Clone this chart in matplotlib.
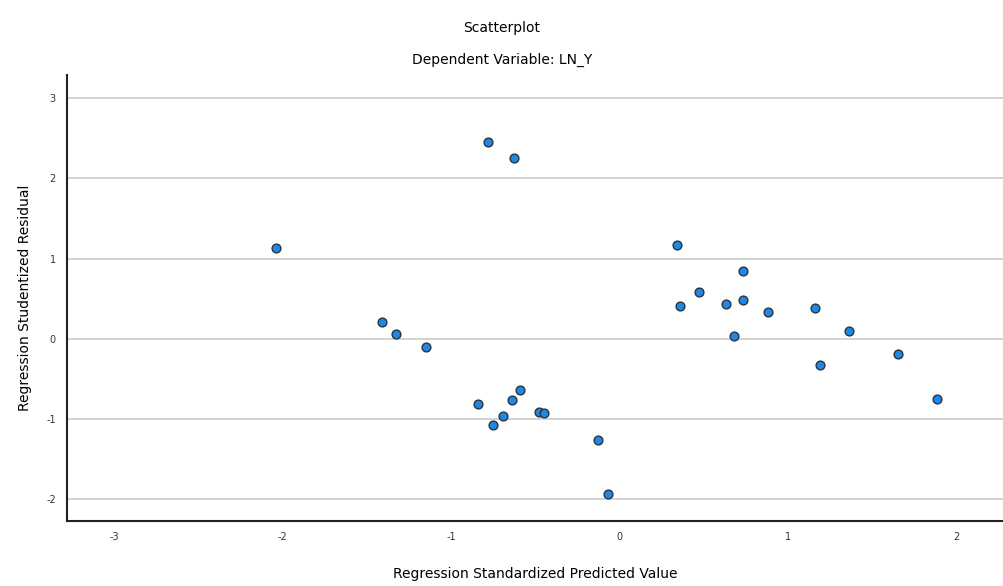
import matplotlib.pyplot as plt

plt.rcParams["axes.unicode_minus"] = False

# standardized predicted values and studentized residuals
pred = [-2.04, -0.78, -0.63, -1.41, -1.33, -1.15, -0.84, -0.75, -0.69, -0.64,
        -0.59, -0.48, -0.45, -0.13, -0.07, 0.34, 0.36, 0.47, 0.63, 0.73,
        0.73, 0.68, 0.88, 1.16, 1.19, 1.36, 1.65, 1.88]
resid = [1.13, 2.46, 2.26, 0.21, 0.06, -0.10, -0.81, -1.07, -0.96, -0.76,
         -0.64, -0.91, -0.93, -1.26, -1.93, 1.17, 0.41, 0.58, 0.43, 0.85,
         0.48, 0.03, 0.33, 0.38, -0.33, 0.10, -0.19, -0.75]
xticks = [-3, -2, -1, 0, 1, 2]
yticks = [-2, -1, 0, 1, 2, 3]

fig = plt.figure(figsize=(10.04, 5.86), dpi=100)
ax = fig.add_axes([0.0667, 0.111, 0.9333, 0.761])

ax.scatter(pred, resid, s=40, color="#1e88e5", edgecolors="#2b3340",
           linewidths=1.0, zorder=3)

ax.set_xlim(-3.28, 2.28)
ax.set_ylim(-2.27, 3.29)
ax.set_xticks(xticks)
ax.set_yticks(yticks)
ax.tick_params(length=0, labelsize=7, colors="#333333", pad=8)
ax.grid(axis="y", color="#cccccc", linewidth=1.2)
ax.set_axisbelow(True)

for s in ["top", "right"]:
    ax.spines[s].set_visible(False)
for s in ["left", "bottom"]:
    ax.spines[s].set_color("#222222")
    ax.spines[s].set_linewidth(1.5)

ax.set_xlabel("Regression Standardized Predicted Value", fontsize=10, labelpad=18)
ax.set_ylabel("Regression Studentized Residual", fontsize=10, labelpad=10)

fig.text(0.5, 0.952, "Scatterplot", ha="center", va="center", fontsize=10)
fig.text(0.5, 0.897, "Dependent Variable: LN_Y", ha="center", va="center", fontsize=10)

fig.savefig("out.png", dpi=100)
